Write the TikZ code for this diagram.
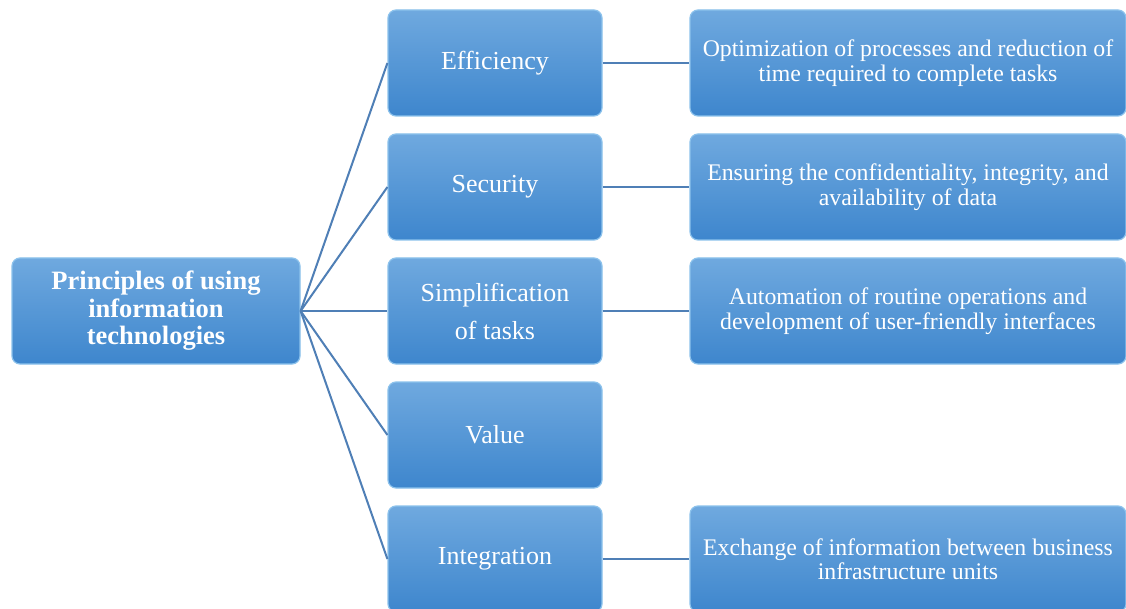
\documentclass[tikz,border=0pt]{standalone}
\usepackage{fontspec}
\setmainfont{Liberation Serif}
\definecolor{boxtop}{HTML}{6FA9DF}
\definecolor{boxbot}{HTML}{3E86CD}
\definecolor{boxedge}{HTML}{8CC2EC}
\definecolor{linkc}{HTML}{4F7FB6}
\tikzset{
  box/.style={rounded corners=8pt, top color=boxtop, bottom color=boxbot, draw=boxedge, line width=1.2pt, text=white, align=center, inner sep=4pt},
  rootbox/.style={box, minimum width=288pt, minimum height=106pt, font=\bfseries\fontsize{26.5}{27.5}\selectfont},
  midbox/.style={box, minimum width=214pt, minimum height=106pt, font=\fontsize{26}{38}\selectfont},
  descbox/.style={box, minimum width=436pt, minimum height=106pt, font=\fontsize{23.8}{24.5}\selectfont},
  link/.style={draw=linkc, line width=2pt}
}
\begin{document}
\begin{tikzpicture}[x=1pt,y=-1pt]
\clip (0,0) rectangle (1126,609);
\fill[white] (0,0) rectangle (1126,609);
\node[rootbox] (root) at (156,311) {Principles of using\\information\\technologies};
\node[midbox] (m1) at (495,63) {Efficiency};
\node[midbox] (m2) at (495,187) {Security};
\node[midbox] (m3) at (495,311) {Simplification\\of tasks};
\node[midbox] (m4) at (495,435) {Value};
\node[midbox] (m5) at (495,559) {Integration};
\node[descbox] (d1) at (908,63) {Optimization of processes and reduction of\\time required to complete tasks};
\node[descbox] (d2) at (908,187) {Ensuring the confidentiality, integrity, and\\availability of data};
\node[descbox] (d3) at (908,311) {Automation of routine operations and\\development of user-friendly interfaces};
\node[descbox] (d5) at (908,559) {Exchange of information between business\\infrastructure units};
\foreach \m in {m1,m2,m3,m4,m5}{\draw[link] (root.east) -- (\m.west);}
\draw[link] (m1.east) -- (d1.west);
\draw[link] (m2.east) -- (d2.west);
\draw[link] (m3.east) -- (d3.west);
\draw[link] (m5.east) -- (d5.west);
\end{tikzpicture}
\end{document}
